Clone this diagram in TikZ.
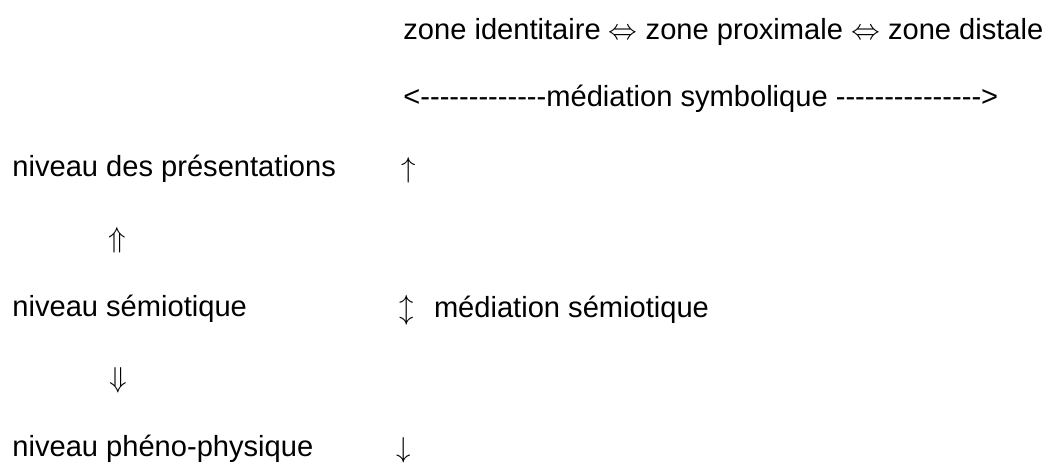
\documentclass[tikz,border=0pt]{standalone}
\usepackage{fontspec}
\setmainfont{Liberation Sans}
\usetikzlibrary{positioning}
\newcommand*{\mth}[1]{$#1$}
\newcommand*{\dashes}[1]{\foreach \i in {1,...,#1}{-}}

\begin{document}
\begin{tikzpicture}[x=0.5pt,y=-0.5pt,
  every node/.style={inner sep=0pt,anchor=base west,
    font=\fontsize{14.55}{17}\selectfont}]
\useasboundingbox (0,0) rectangle (1052,463);
% Zones along the top
\node (zones) at (403,39) {zone identitaire \mth{\Leftrightarrow} zone proximale \mth{\Leftrightarrow} zone distale};
\node (symb) at (403,106) {<\dashes{13}médiation symbolique \dashes{15}>};
% The three levels on the left
\node (pres) at (12,176) {niveau des présentations};
\node (semio) at (12,316) {niveau sémiotique};
\node (pheno) at (12,456) {niveau phéno-physique};
% Arrows between the levels
\node (up) at (108,247) {\mth{\Uparrow}};
\node (down) at (109,387) {\mth{\Downarrow}};
% Column of mediation arrows
\node (top) at (401,177) {\mth{\uparrow}};
\node (mid) at (399,317) {\mth{\updownarrow}};
\node[right=9.7pt of mid.base east,anchor=base west] (msemio) {médiation sémiotique};
\node (bot) at (396,457) {\mth{\downarrow}};
\end{tikzpicture}
\end{document}
